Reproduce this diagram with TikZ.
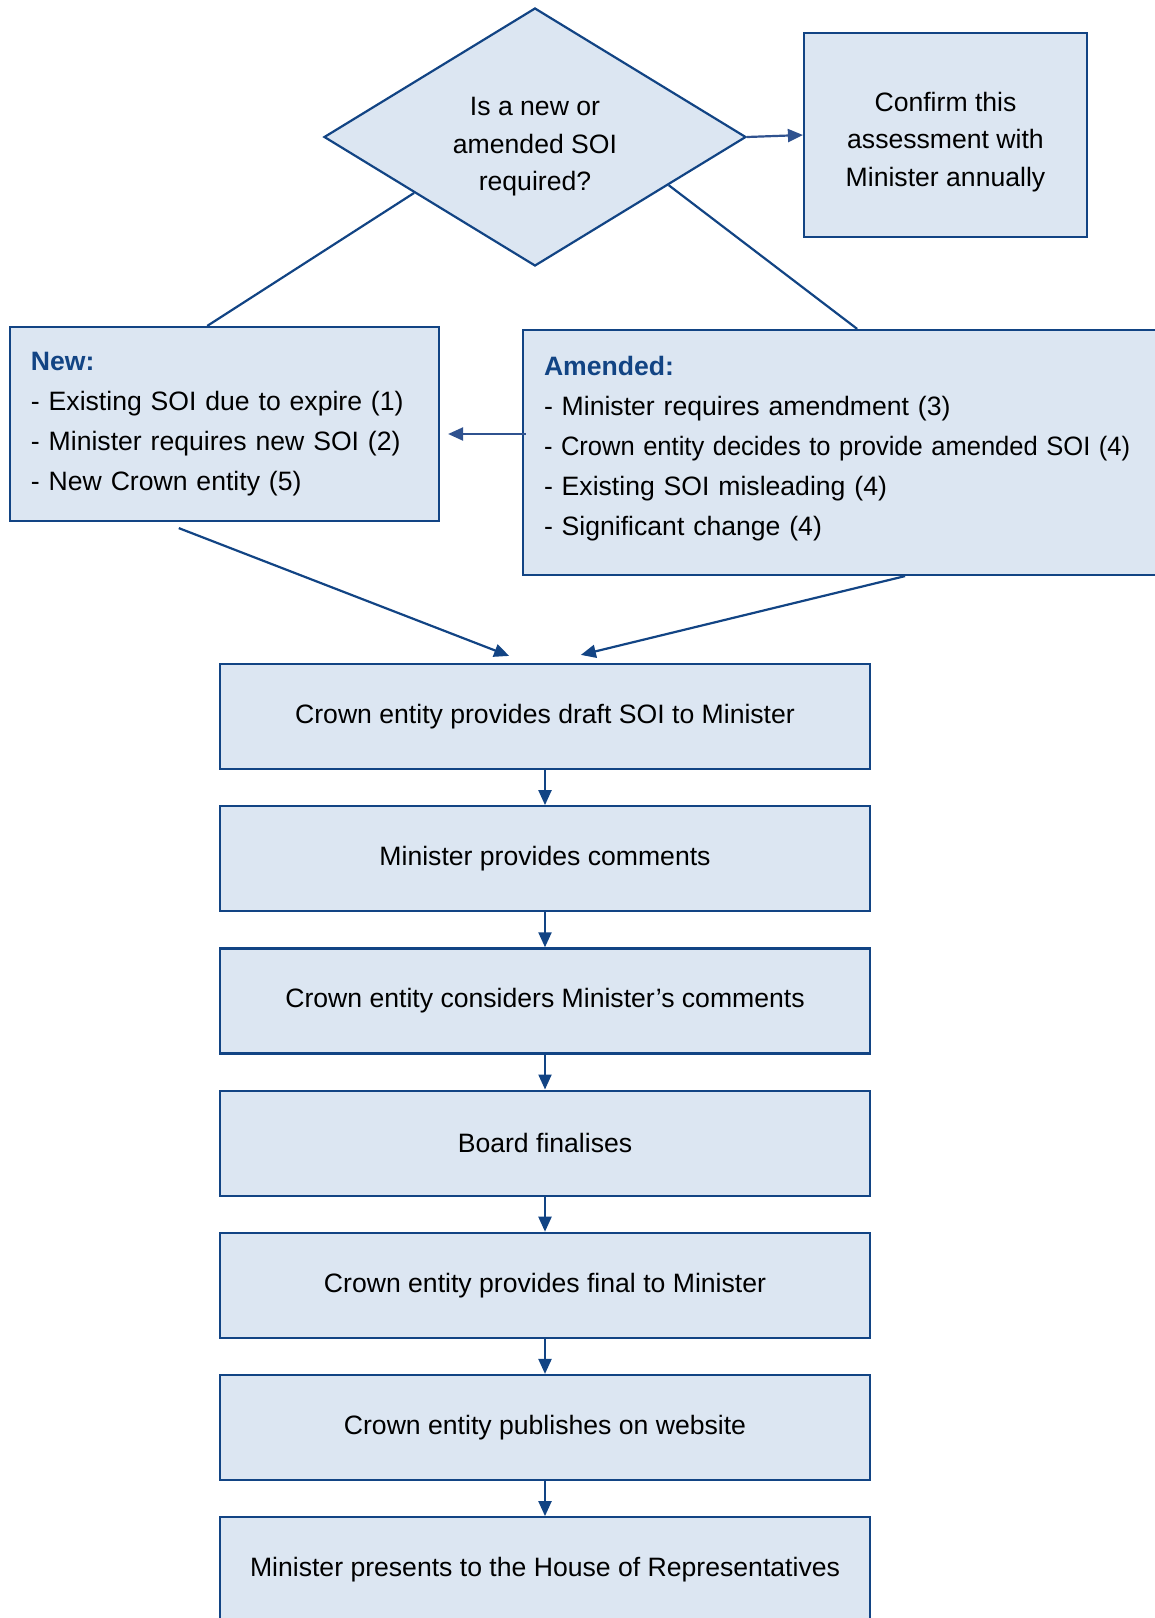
\documentclass[tikz,border=0pt]{standalone}
\usepackage{fontspec}
\setmainfont{Liberation Sans}
\usetikzlibrary{positioning,arrows.meta,shapes.geometric,calc}
\definecolor{soiblue}{RGB}{18,68,132}
\definecolor{soiarrow}{RGB}{47,82,143}
\definecolor{soifill}{RGB}{220,230,242}
\begin{document}
\begin{tikzpicture}[x=0.5pt, y=-0.5pt, >={Triangle[width=6.5pt,length=7.5pt]},
  font=\fontsize{13.3}{20}\selectfont,
  conn/.style={draw=soiblue, line width=1.1pt},
  box/.style={draw=soiblue, fill=soifill, line width=1.1pt, minimum width=325pt, minimum height=52.5pt, inner sep=0pt},
  listbox/.style={draw=soiblue, fill=soifill, line width=1.1pt, align=left, inner xsep=10.5pt, inner ysep=0pt},
  decision/.style={draw=soiblue, fill=soifill, line width=1.1pt, diamond, aspect=1.636, minimum width=211pt, minimum height=129pt, inner sep=0pt}]
  \useasboundingbox (0,0) rectangle (1155,1618);
  \clip (0,0) rectangle (1155,1618);
  % question and its answers
  \node[decision] (q) at (535,137) {};
  \node[align=center, font=\fontsize{13.3}{18.75}\selectfont] (qtext) at (535,147) {Is a new or\\amended SOI\\required?};
  \node[draw=soiblue, fill=soifill, line width=1.1pt, minimum width=141.5pt, minimum height=102pt] (conf) at (945.5,135) {};
  \node[align=center, font=\fontsize{13.3}{18.75}\selectfont] (conftext) at (945.5,142) {Confirm this\\assessment with\\Minister annually};
  \node[listbox, text width=193.5pt, minimum height=97pt] (new) at (224.5,424) {\textcolor{soiblue}{\bfseries New:}\\- Existing SOI due to expire (1)\\- Minister requires new SOI (2)\\- New Crown entity (5)};
  \node[listbox, text width=320pt, minimum height=122.5pt] (amd) at (864,452.5) {};
  \node[align=left, text width=320pt, inner sep=0pt] (amdtext) at (864,449) {\textcolor{soiblue}{\bfseries Amended:}\\- Minister requires amendment (3)\\\scalebox{0.96}[1]{- Crown entity decides to provide amended SOI (4)}\\- Existing SOI misleading (4)\\- Significant change (4)};
  \draw[conn] ($(q.west)!0.43!(q.south)$) -- ($(new.north west)!0.46!(new.north east)$);
  \draw[conn] ($(q.east)!0.37!(q.south)$) -- ($(amd.north west)!0.49!(amd.north east)$);
  \draw[conn, draw=soiarrow, ->] (q.east) -- (conf.west);
  \coordinate (a1) at ($(amd.west)+(4,-18.5)$);
  \draw[conn, draw=soiarrow, ->, shorten >=4pt] (a1) -- (a1 -| new.east);
  % steps
  \foreach \i/\txt in {1/Crown entity provides draft SOI to Minister, 2/Minister provides comments,
    3/Crown entity considers Minister’s comments, 4/Board finalises, 5/Crown entity provides final to Minister,
    6/Crown entity publishes on website, 7/Minister presents to the House of Representatives}
    \node[box] (s\i) at (545,{716.5+142.2*(\i-1)}) {\txt};
  \foreach \i/\j in {1/2,2/3,3/4,4/5,5/6,6/7} \draw[conn,->] (s\i) -- (s\j);
  \draw[conn,->] ($(new.south west)!0.394!(new.south east)+(0,6)$) -- ($(s1.north west)!0.445!(s1.north east)+(0,-7)$);
  \draw[conn,->] ($(amd.south west)!0.56!(amd.south east)$) -- ($(s1.north west)!0.555!(s1.north east)+(0,-8)$);
\end{tikzpicture}
\end{document}
